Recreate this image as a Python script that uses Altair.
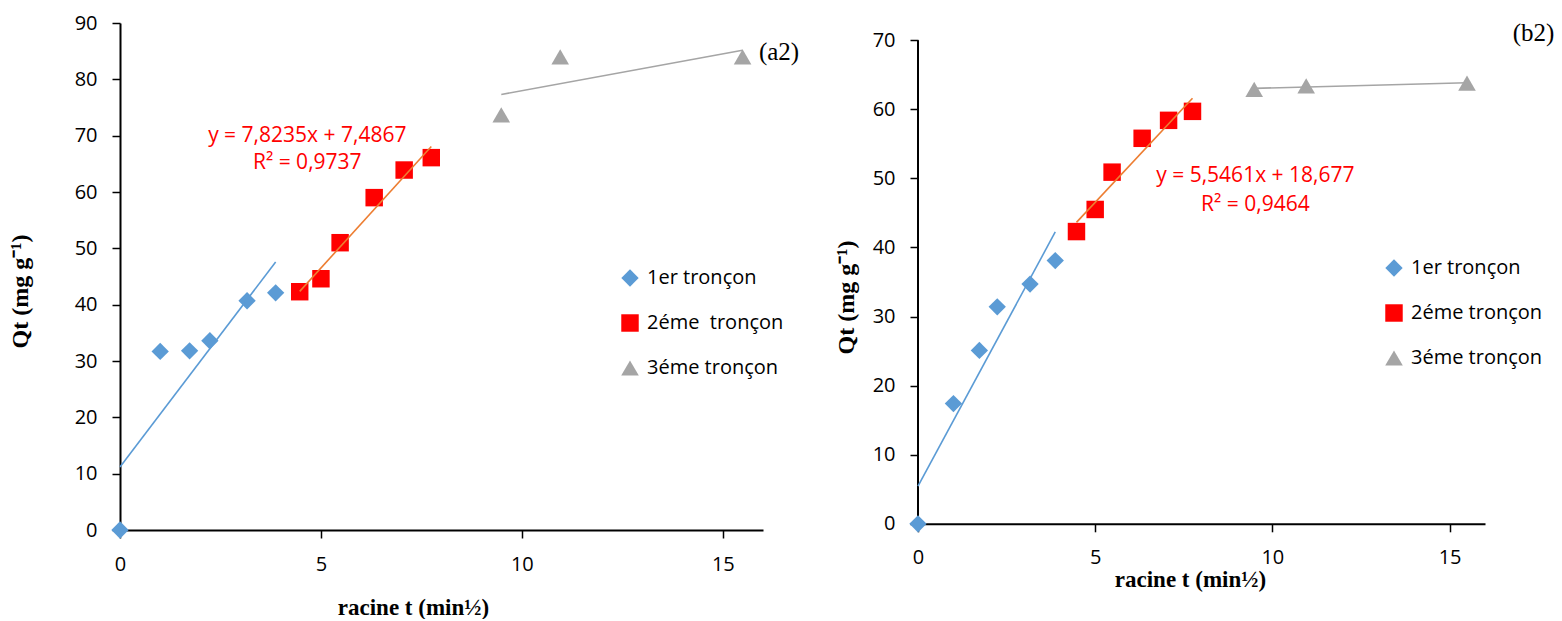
import altair as alt
import pandas as pd

# ---------------- data ----------------
x_sqrt_1 = [0, 1.0, 1.732, 2.236, 3.162, 3.873]
x_sqrt_2 = [4.472, 5.0, 5.477, 6.325, 7.071, 7.746]
x_sqrt_3 = [9.487, 10.954, 15.492]

a_q1 = [0, 31.7, 31.8, 33.6, 40.7, 42.1]
a_q2 = [42.3, 44.6, 51.0, 59.0, 63.9, 66.1]
a_q3 = [73.7, 84.0, 84.0]

b_q1 = [0, 17.4, 25.1, 31.4, 34.7, 38.1]
b_q2 = [42.3, 45.5, 50.9, 55.8, 58.4, 59.7]
b_q3 = [62.9, 63.4, 63.8]

a_names = ["1er tronçon", "2éme\u00a0 tronçon", "3éme tronçon"]
b_names = ["1er tronçon", "2éme tronçon", "3éme tronçon"]

a_eq = ["y = 7,8235x + 7,4867", "R² = 0,9737"]
b_eq = ["y = 5,5461x + 18,677", "R² = 0,9464"]

x_ticks = [0, 5, 10, 15]
a_y_ticks = [0, 10, 20, 30, 40, 50, 60, 70, 80, 90]
b_y_ticks = [0, 10, 20, 30, 40, 50, 60, 70]

POINT_COLORS = ["#5B9BD5", "#FF0000", "#A5A5A5"]
LINE_COLORS = ["#5B9BD5", "#ED7D31", "#A5A5A5"]
SHAPES = ["diamond", "square", "triangle-up"]
SIZES = [300, 310, 360]

LABEL_FONT = "Open Sans"
TITLE_FONT = "Liberation Serif"


def frame(names, q1, q2, q3):
    rows = []
    for name, xs, qs in zip(names, [x_sqrt_1, x_sqrt_2, x_sqrt_3], [q1, q2, q3]):
        for xv, qv in zip(xs, qs):
            rows.append({"series": name, "x": xv, "qt": qv})
    return pd.DataFrame(rows)


dummy = pd.DataFrame({"k": [0]})


def panel(df, names, width, height, ydom, yticks, eq, eq_pos, tag, tag_pos,
          legend_xy, xaxis_extra, yaxis_extra, draw_ydomain):
    xs = alt.X("x:Q", scale=alt.Scale(domain=[0, 16], nice=False, zero=False),
               axis=alt.Axis(values=x_ticks, title="racine t (min½)", **xaxis_extra))
    ys = alt.Y("qt:Q", scale=alt.Scale(domain=ydom, nice=False, zero=False),
               axis=alt.Axis(values=yticks, title="Qt (mg g⁻¹)", **yaxis_extra))
    leg = alt.Legend(title=None, orient="none", legendX=legend_xy[0], legendY=legend_xy[1],
                     labelFont=LABEL_FONT, labelFontSize=20, labelColor="black",
                     symbolSize=200, rowPadding=25, labelOffset=7, symbolStrokeWidth=0)
    pts = alt.Chart(df).mark_point(filled=True, opacity=1).encode(
        x=xs, y=ys,
        color=alt.Color("series:N", scale=alt.Scale(domain=names, range=POINT_COLORS), legend=leg),
        shape=alt.Shape("series:N", scale=alt.Scale(domain=names, range=SHAPES), legend=leg),
        size=alt.Size("series:O", scale=alt.Scale(domain=names, range=SIZES), legend=None),
    )
    lines = alt.Chart(df).transform_regression("x", "qt", groupby=["series"]).mark_line(
        strokeWidth=1.6).encode(
        x="x:Q", y="qt:Q",
        stroke=alt.Stroke("series:N", scale=alt.Scale(domain=names, range=LINE_COLORS), legend=None),
    )
    t1 = alt.Chart(dummy).mark_text(font=LABEL_FONT, fontSize=21, color="#FF0000").encode(
        x=alt.datum(eq_pos[0]), y=alt.datum(eq_pos[1]), text=alt.value(eq[0]))
    t2 = alt.Chart(dummy).mark_text(font=LABEL_FONT, fontSize=21, color="#FF0000").encode(
        x=alt.datum(eq_pos[0]), y=alt.datum(eq_pos[2]), text=alt.value(eq[1]))
    tg = alt.Chart(dummy).mark_text(font=TITLE_FONT, fontSize=25, color="black").encode(
        x=alt.datum(tag_pos[0]), y=alt.datum(tag_pos[1]), text=alt.value(tag))
    layers = [pts, lines, t1, t2, tg]
    if draw_ydomain:
        rule = alt.Chart(dummy).mark_rule(color="black", strokeWidth=2).encode(
            x=alt.datum(0), y=alt.datum(0), y2=alt.datum(yticks[-1]))
        layers.insert(0, rule)
    return alt.layer(*layers).properties(width=width, height=height)


common_axis = dict(labelFont=LABEL_FONT, labelFontSize=20, labelColor="black", labelFlush=False,
                   domainColor="black", domainWidth=2, tickColor="black", tickWidth=1.5,
                   tickSize=8, grid=False, titleFont=TITLE_FONT,
                   titleFontWeight="bold", titleColor="black")

H = 507
left = panel(
    frame(a_names, a_q1, a_q2, a_q3), a_names, 643, H, [0, 90], a_y_ticks,
    a_eq, (4.66, 69.9, 65.2), "(a2)", (16.4, 84.9), (500, 245),
    dict(labelPadding=16, titleX=293, titleY=84, titleBaseline="alphabetic", titleAnchor="start",
         titleAlign="center", titleFontSize=23, **common_axis),
    dict(labelPadding=15, titleX=-100, titleY=268, titleBaseline="middle", titleAngle=-90,
         titleAlign="center", titleAnchor="start", titleFontSize=24, **common_axis),
    False,
)
right = panel(
    frame(b_names, b_q1, b_q2, b_q3), b_names, 567, H, [-0.897, 72.49], b_y_ticks,
    b_eq, (9.52, 50.3, 46.2), "(b2)", (17.37, 71.1), (466, 235),
    dict(labelPadding=16, offset=-6.2, titleX=272, titleY=62.4, titleBaseline="alphabetic",
         titleAnchor="start", titleAlign="center", titleFontSize=23, **common_axis),
    dict(labelPadding=15, domain=False, titleX=-72, titleY=274, titleBaseline="middle", titleAngle=-90,
         titleAlign="center", titleAnchor="start", titleFontSize=24, **common_axis),
    True,
)

chart = alt.hconcat(left, right, spacing=155, bounds="flush").resolve_scale(
    color="independent", shape="independent", size="independent", stroke="independent"
).resolve_legend(color="independent", shape="independent").properties(
    padding={"left": 8, "top": 13, "right": 2, "bottom": 0}
).configure_view(stroke=None)

chart.save("out.html", embed_options={"renderer": "svg", "actions": False})
